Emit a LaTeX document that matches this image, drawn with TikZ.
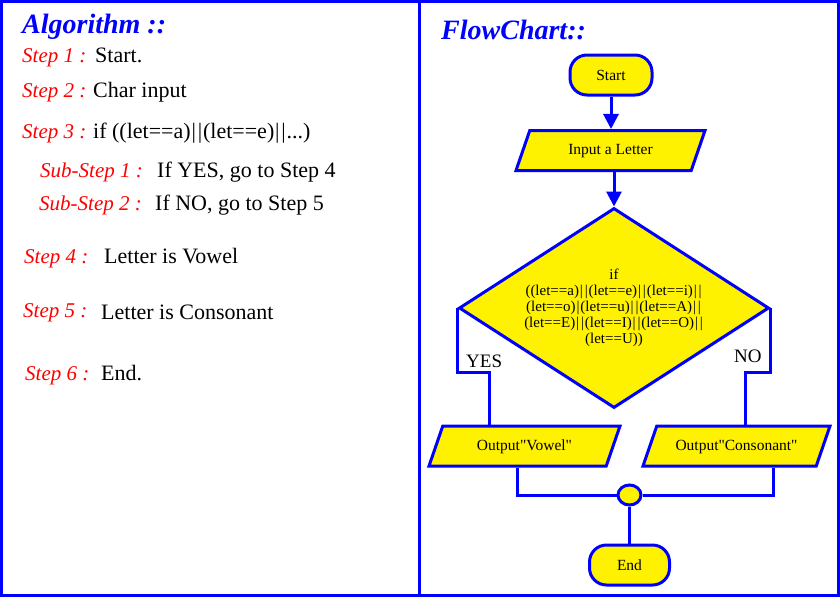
\documentclass[tikz,border=0pt]{standalone}
\usepackage{fontspec}
\setmainfont{Liberation Serif}[Ligatures=TeXOff]
\usetikzlibrary{shapes.geometric,arrows.meta}
\newcommand{\vb}{\kern0.9pt|\kern0.9pt}
\begin{document}
\begin{tikzpicture}[x=1pt,y=-1pt,
  line/.style={draw=blue,line width=3pt},
  arr/.style={line,-{Triangle[length=15pt,width=15pt]}},
  box/.style={draw=blue,line width=3pt,fill=yellow,inner sep=0pt,font=\fontsize{15.5}{18}\selectfont},
  term/.style={box,rectangle,rounded corners=17pt,minimum width=82pt,minimum height=40pt},
  io/.style={box,trapezium,trapezium left angle=71,trapezium right angle=109,trapezium stretches body,
    text height=12pt,text depth=4pt,inner ysep=12pt,inner xsep=2pt},
  decbox/.style={box,diamond,shape aspect=1.55,minimum width=310pt,minimum height=200pt,align=center,font=\fontsize{15}{16}\selectfont},
  joinbox/.style={box,ellipse,minimum width=23pt,minimum height=20pt},
  lbl/.style={anchor=base west,inner sep=0pt,font=\fontsize{19}{22}\selectfont},
  stepred/.style={anchor=base west,inner sep=0pt,text=red,font=\fontsize{21}{25}\selectfont\itshape},
  stepblk/.style={anchor=base west,inner sep=0pt,font=\fontsize{22}{26}\selectfont},
  title/.style={anchor=base west,inner sep=0pt,text=blue,font=\fontsize{28}{32}\selectfont\bfseries\itshape}
]
\useasboundingbox (0,0) rectangle (840,597);
\draw[blue,line width=3pt] (1.5,1.5) rectangle (838.5,595.5);
\draw[blue,line width=3pt] (419.5,0) -- (419.5,597);

% Algorithm panel
\node[title] (algt) at (22,33) {Algorithm ::};
\node[stepred] (s1) at (22,62) {Step 1 :};
\node[stepblk] (t1) at (95,62) {Start.};
\node[stepred] (s2) at (22,97) {Step 2 :};
\node[stepblk] (t2) at (93,97) {Char input};
\node[stepred] (s3) at (22,138) {Step 3 :};
\node[stepblk] (t3) at (93,138) {if ((let==a)\vb\vb(let==e)\vb\vb...)};
\node[stepred] (ss1) at (40,177) {Sub-Step 1 :};
\node[stepblk] (tt1) at (157,177) {If YES, go to Step 4};
\node[stepred] (ss2) at (39,210) {Sub-Step 2 :};
\node[stepblk] (tt2) at (155,210) {If NO, go to Step 5};
\node[stepred] (s4) at (24,263) {Step 4 :};
\node[stepblk] (t4) at (104,263) {Letter is Vowel};
\node[stepred] (s5) at (23,317) {Step 5 :};
\node[stepblk] (t5) at (101,319) {Letter is Consonant};
\node[stepred] (s6) at (25,380) {Step 6 :};
\node[stepblk] (t6) at (101,380) {End.};

% Flowchart panel
\node[title] (fct) at (441,39) {FlowChart::};
\node[term] (start) at (611,75) {Start};
\node[io,minimum width=189pt] (input) at (610.5,150.5) {Input a Letter};
\node[decbox] (dec) at (614,308) {if\\((let==a)\vb\vb(let==e)\vb\vb(let==i)\vb\vb\\(let==o)\vb(let==u)\vb\vb(let==A)\vb\vb\\(let==E)\vb\vb(let==I)\vb\vb(let==O)\vb\vb\\(let==U))};
\node[io,minimum width=191pt] (outv) at (524.5,446) {Output"Vowel"};
\node[io,minimum width=187pt] (outc) at (736.5,446) {Output"Consonant"};
\node[joinbox] (join) at (629.5,495) {};
\node[term,minimum width=80pt] (end) at (629.5,565) {End};
\coordinate (yb) at (489,372);
\coordinate (nb) at (745,372);
\coordinate (vbb) at (517,495);
\coordinate (cb) at (773,495);

\draw[arr] (start.south) -- (start.south |- input.north);
\draw[arr] (dec.north |- input.south) -- (dec.north);
\draw[line] (dec.west) |- (yb) -- (outv.north -| yb);
\draw[line] (dec.east) |- (nb) -- (outc.north -| nb);
\draw[line] (outv.south -| vbb) |- (join.west);
\draw[line] (outc.south -| cb) |- (join.east);
\draw[line] (join.south) -- (end.north);

\node[lbl] (yes) at (466,367) {YES};
\node[lbl] (no) at (734,362) {NO};
\end{tikzpicture}
\end{document}
